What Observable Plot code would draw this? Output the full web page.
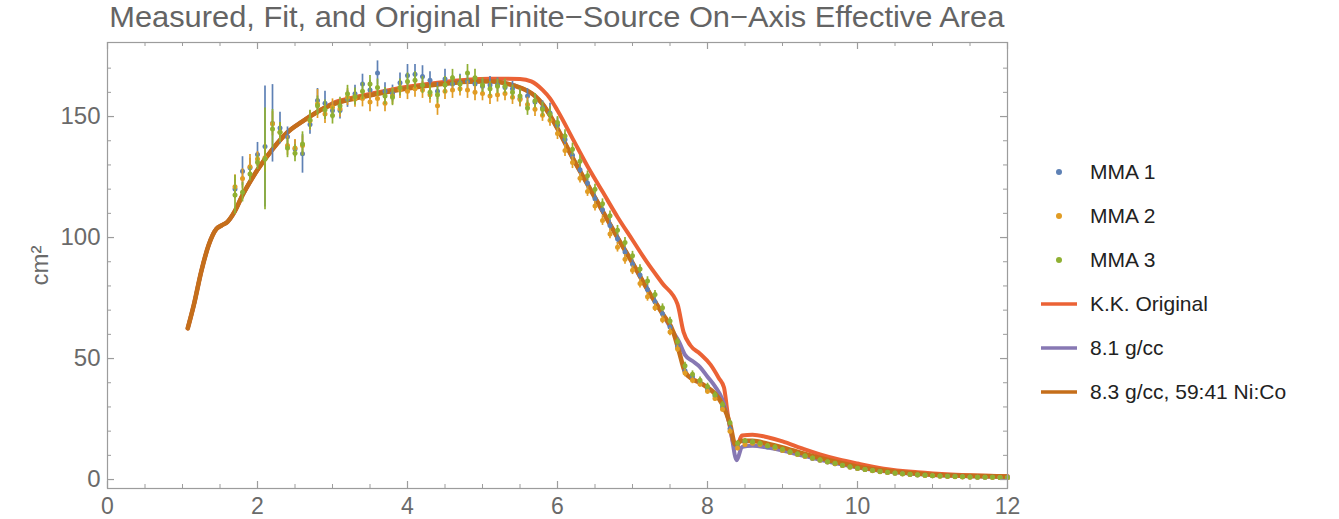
<!DOCTYPE html>
<html>
<head>
<meta charset="utf-8">
<script src="https://cdn.jsdelivr.net/npm/d3@7"></script>
<script src="https://cdn.jsdelivr.net/npm/@observablehq/plot@0.6"></script>
<style>
  html, body { margin: 0; padding: 0; background: #fff; }
  #wrap { position: relative; width: 1339px; height: 519px; overflow: hidden; background: #fff; }
  #title { position: absolute; left: 0; top: 2px; width: 1114px; text-align: center;
           font-family: "Liberation Sans", Arial, sans-serif; font-size: 30px; line-height: 30px; color: #646464; white-space: nowrap; }
  #title span { display: inline-block; transform-origin: center; }
  #chart { position: absolute; left: 0; top: 40px; }
  #legend { position: absolute; left: 1020px; top: 150px; font-family: "Liberation Sans", Arial, sans-serif;
            font-size: 21px; color: #222; }
  .item { display: flex; align-items: center; height: 44px; }
  .item svg { margin-left: 21px; }
  .item span { margin-left: 13px; white-space: nowrap; }
</style>
</head>
<body>
<div id="wrap">
  <div id="title"><span>Measured, Fit, and Original Finite−Source On−Axis Effective Area</span></div>
  <div id="chart"></div>
  <div id="legend"></div>
</div>
<script>
// ---------- data ----------
const titleText = "Measured, Fit, and Original Finite−Source On−Axis Effective Area";
const yLabel = "cm²";
const seriesNames = ["MMA 1", "MMA 2", "MMA 3", "K.K. Original", "8.1 g/cc", "8.3 g/cc, 59:41 Ni:Co"];
const seriesColors = ["#5E81B5", "#E19C24", "#8FB032", "#EB6235", "#8778B3", "#C56E1A"];

const xMajor = [0, 2, 4, 6, 8, 10, 12];
const xMinor = [0.5, 1, 1.5, 2.5, 3, 3.5, 4.5, 5, 5.5, 6.5, 7, 7.5, 8.5, 9, 9.5, 10.5, 11, 11.5];
const yMajor = [0, 50, 100, 150];
const yMinor = [10, 20, 30, 40, 60, 70, 80, 90, 110, 120, 130, 140, 160, 170];

const energy = [
  1.7,1.8,1.9,2.0,2.1,2.2,2.3,2.4,2.5,2.6,
  2.7,2.8,2.9,3.0,3.1,3.2,3.3,3.4,3.5,3.6,
  3.7,3.8,3.9,4.0,4.1,4.2,4.3,4.4,4.5,4.6,
  4.7,4.8,4.9,5.0,5.1,5.2,5.3,5.4,5.5,5.6,
  5.7,5.8,5.9,6.0,6.1,6.2,6.3,6.4,6.5,6.6,
  6.7,6.8,6.9,7.0,7.1,7.2,7.3,7.4,7.5,7.6,
  7.7,7.8,7.9,8.0,8.1,8.2,8.3,8.4,8.5,8.6,
  8.7,8.8,8.9,9.0,9.1,9.2,9.3,9.4,9.5,9.6,
  9.7,9.8,9.9,10.0,10.1,10.2,10.3,10.4,10.5,10.6,
  10.7,10.8,10.9,11.0,11.1,11.2,11.3,11.4,11.5,11.6,
  11.7,11.8,11.9,12.0
];
const mma1 = [
  120.1,127.4,128.8,134.3,137.6,147.2,145.3,141.7,136.6,134.6,
  146.7,156.6,155.5,152.5,152.5,157.3,159.4,163.5,161,168,
  160.5,159.5,164,167,167.5,166.5,165,160.5,165.5,163.5,
  164,164.5,163.5,162.5,163,163,162,161.5,157.5,158.5,
  156,153.5,151.5,146.5,140.5,134,128,122.5,116,111.5,
  105,99.5,94,89,84.5,78.5,73.5,68.5,63,55,
  45,42.5,40,37,34.5,30,21,13.5,15.5,15.5,
  14.5,13.5,13,12,11.3,10.5,9.6,8.7,8.0,7.2,
  6.5,5.8,5.2,4.6,4.1,3.7,3.3,2.9,2.6,2.4,
  2.1,1.9,1.8,1.6,1.5,1.4,1.3,1.2,1.1,1.0,
  0.9,0.9,0.8,0.8
];
const mma2 = [
  121,124.4,129.3,132.5,133,147,143.5,138,137,138,
  148.3,155.2,151.1,153.8,153.2,158,157.3,157.5,156,157.5,
  155.5,158.5,161,160.5,161.5,161,159,154.5,160.5,161,
  161.5,161,160,159.5,158.5,159,159.5,158,157,155,
  153,150.5,148.5,143,136,131,124.5,119,113,107,
  101.5,96,91,86.5,81,75.5,71,66,61,54,
  44,41,39.5,36.5,33.5,29,20,13,14.5,15,
  14.5,14,13,12,11.2,10.4,9.5,8.8,8.0,7.2,
  6.5,5.8,5.1,4.6,4.1,3.6,3.2,2.9,2.6,2.3,
  2.1,1.9,1.7,1.6,1.4,1.3,1.2,1.1,1.0,1.0,
  0.9,0.8,0.8,0.7
];
const mma3 = [
  117.6,118.7,126.3,131.1,132.5,144.9,143.5,137,134.8,138.7,
  148.6,154.5,152.8,150.4,154.5,159.4,158.3,160.5,163.5,162,
  158.5,158,162,164.5,165,163,160,159,163,166,
  163.5,168,166,163,161.5,162.5,162.5,160,158.5,153.5,
  156.5,153,151,147.5,142,136.5,131.5,125.5,120,114,
  109,103,98,92.5,87,82,76.5,71,65.5,57,
  47,43.5,41,38.5,35,31,23.5,15,16,15.5,
  15,14,13.5,12.5,11.5,10.6,9.8,8.9,8.2,7.4,
  6.7,5.9,5.3,4.7,4.2,3.7,3.3,3.0,2.7,2.4,
  2.2,2.0,1.8,1.6,1.5,1.4,1.3,1.2,1.1,1.0,
  1.0,0.9,0.8,0.8
];
const err1 = [
  4,6,4,5,25,16,6.5,4,3.5,8,
  4,5,5,3.5,3.5,3.5,3.5,4,4,5,
  3.5,3.5,4,4.5,4,4.5,3.5,3.5,4,3.5,
  3.5,3.5,3,3,3.5,3,3,3,3.5,3,
  3,3,4,3,2.5,2.5,2.5,2.5,2,2,
  2,2,2,2,1.8,1.8,1.8,1.6,1.6,1.5,
  1.5,1.4,1.4,1.3,1.3,1.2,1.2,1.1,1,1,
  0.9,0.9,0.9,0.8,0.8,0.8,0.7,0.7,0.7,0.6,
  0.6,0.6,0.5,0.5,0.5,0.5,0.5,0.4,0.4,0.4,
  0.4,0.4,0.4,0.4,0.3,0.3,0.3,0.3,0.3,0.3,
  0.3,0.3,0.3,0.3
];
const err2 = [
  5,4,5,3,6,5,4,4,3.5,4,
  4,6,4,3.5,3.5,3.5,3.5,3.5,4,3.5,
  3.5,3.5,3.5,3.5,3.5,3.5,3.5,4,3.5,3.5,
  3,3.5,3.5,3,3.5,3,3,3,3,3,
  3,2.5,2.5,2.5,2.5,2.5,2,2,2,2,
  2,2,2,1.8,1.8,1.8,1.6,1.6,1.6,1.5,
  1.5,1.4,1.4,1.3,1.3,1.2,1.2,1.1,1,1,
  0.9,0.9,0.9,0.8,0.8,0.8,0.7,0.7,0.7,0.6,
  0.6,0.6,0.5,0.5,0.5,0.5,0.5,0.4,0.4,0.4,
  0.4,0.4,0.4,0.4,0.3,0.3,0.3,0.3,0.3,0.3,
  0.3,0.3,0.3,0.3
];
const err3 = [
  8,4,3,3,21,8,4,4,3.5,5,
  4,4,4,3.5,3.5,3.5,3.5,3.5,3.5,3.5,
  3.5,3.5,3.5,3.5,3.5,3.5,3,3.5,3.5,3.5,
  3.5,3.5,3.5,3,3,3,3,3,3,3,
  3,3,3,2.5,2.5,2.5,2.5,2,2,2,
  2,2,2,1.8,1.8,1.8,1.6,1.6,1.6,1.5,
  1.5,1.4,1.4,1.3,1.3,1.2,1.2,1.1,1,1,
  0.9,0.9,0.9,0.8,0.8,0.8,0.7,0.7,0.7,0.6,
  0.6,0.6,0.5,0.5,0.5,0.5,0.5,0.4,0.4,0.4,
  0.4,0.4,0.4,0.4,0.3,0.3,0.3,0.3,0.3,0.3,
  0.3,0.3,0.3,0.3
];

const originalX = [1.07,1.15,1.25,1.35,1.45,1.52,1.6,1.7,1.8,1.9,2.0,2.2,2.4,2.6,2.8,3.0,3.3,3.6,4.0,4.4,4.8,5.1,5.3,5.5,5.65,5.8,5.9,6.0,6.2,6.4,6.6,6.8,7.0,7.2,7.4,7.6,7.68,7.77,7.9,8.04,8.15,8.22,8.27,8.38,8.46,8.6,8.8,9.0,9.25,9.5,9.75,10.0,10.35,10.8,11.25,11.6,12.0];
const originalY = [62.5,72,86,97,103.5,105,106.5,111,117.5,123,128,136.5,143.5,148,152,155.5,158,160,162.3,164,165.2,165.6,165.6,165.5,164.5,161,157.5,152.5,141,129.5,119,108.5,99,89.5,81,72.5,61,55.5,52,47.5,42,38,27,13,18.2,18.5,17.5,15.8,13,10.4,8.3,6.6,4.5,3.0,2.1,1.7,1.4];

const fit81X = [1.07,1.15,1.25,1.35,1.45,1.52,1.6,1.7,1.8,1.9,2.0,2.2,2.4,2.6,2.8,3.0,3.3,3.6,4.0,4.4,4.8,5.1,5.3,5.5,5.7,5.8,5.9,6.0,6.2,6.4,6.6,6.8,7.0,7.2,7.4,7.55,7.62,7.7,7.8,7.9,8.0,8.1,8.2,8.3,8.39,8.46,8.6,8.8,9.0,9.25,9.5,9.75,10.0,10.5,11.0,11.5,12.0];
const fit81Y = [62.5,72,86,97,103.5,105,106.5,111,117.5,123,128,136.5,143.5,148,152,155,157.5,159.4,161.6,163.3,164.4,164.6,163.8,162,158.5,155.2,150.5,145,133,122,111,100,89.5,78.5,68.5,60.5,57,51.5,49,46.5,42.5,38.5,33,22,8,13.5,14,13.2,12,10,8.2,6.5,5,3,1.9,1.4,1.1];

const fit83X = [1.07,1.15,1.25,1.35,1.45,1.52,1.6,1.7,1.8,1.9,2.0,2.2,2.4,2.6,2.8,3.0,3.3,3.6,4.0,4.4,4.8,5.1,5.3,5.5,5.7,5.8,5.9,6.0,6.2,6.4,6.6,6.8,7.0,7.2,7.4,7.55,7.62,7.7,7.8,7.9,8.0,8.1,8.2,8.3,8.37,8.45,8.6,8.8,9.0,9.25,9.5,9.75,10.0,10.5,11.0,11.5,12.0];
const fit83Y = [62.5,72,86,97,103.5,105,106.5,111,117.5,123,128,136.5,143.5,148,152,155,157.5,159.4,161.6,163.3,164.4,164.6,163.8,162,158.5,155.2,150.5,145,133,122,111,100,89.5,78.5,68.5,60.5,53,44.5,41.5,40,38,35.5,31,23,14.5,16,16,14.8,13.3,11,8.9,7,5.3,3.2,2.0,1.5,1.2];

// ---------- build tables ----------
const measured = [mma1, mma2, mma3].map((vals, s) => {
  const errs = [err1, err2, err3][s];
  return energy.map((e, i) => ({series: seriesNames[s], x: e, y: vals[i], lo: vals[i] - errs[i], hi: vals[i] + errs[i]}));
});
const curves = [[originalX, originalY], [fit81X, fit81Y], [fit83X, fit83Y]].map(([xs, ys], k) =>
  xs.map((x, i) => ({series: seriesNames[3 + k], x, y: ys[i]})));
const curveWidths = [4, 4, 4.6];

// ---------- plot ----------
const W = 1020, H = 479;
const mL = 107, mR = 13, mT = 2, mB = 31;
const fw = W - mL - mR, fh = H - mT - mB;
const frameColor = "#9c9c9c";
const labelColor = "#6a6a6a";

const marks = [];
curves.forEach((c, k) => {
  marks.push(Plot.line(c, {x: "x", y: "y", stroke: "series", strokeWidth: curveWidths[k], curve: "monotone-x"}));
});
measured.forEach(m => {
  marks.push(Plot.ruleX(m, {x: "x", y1: "lo", y2: "hi", stroke: "series", strokeWidth: 1.7}));
  marks.push(Plot.dot(m, {x: "x", y: "y", fill: "series", r: 2.5}));
});
marks.push(Plot.frame({stroke: frameColor, strokeWidth: 1.2}));
marks.push(Plot.tickX(xMajor, {x: d => d, insetTop: fh - 7, stroke: frameColor, strokeWidth: 1.2}));
marks.push(Plot.tickX(xMinor, {x: d => d, insetTop: fh - 4, stroke: frameColor}));
marks.push(Plot.tickX(xMajor, {x: d => d, insetBottom: fh - 7, stroke: frameColor, strokeWidth: 1.2}));
marks.push(Plot.tickX(xMinor, {x: d => d, insetBottom: fh - 4, stroke: frameColor}));
marks.push(Plot.tickY(yMajor, {y: d => d, insetRight: fw - 7, stroke: frameColor, strokeWidth: 1.2}));
marks.push(Plot.tickY(yMinor, {y: d => d, insetRight: fw - 4, stroke: frameColor}));
marks.push(Plot.tickY(yMajor, {y: d => d, insetLeft: fw - 7, stroke: frameColor, strokeWidth: 1.2}));
marks.push(Plot.tickY(yMinor, {y: d => d, insetLeft: fw - 4, stroke: frameColor}));
marks.push(Plot.axisX(xMajor, {anchor: "bottom", tickSize: 0, tickPadding: 9, label: null, color: labelColor}));
marks.push(Plot.axisY(yMajor, {anchor: "left", tickSize: 0, tickPadding: 7, label: yLabel, labelAnchor: "center", labelOffset: 77, labelArrow: "none", color: labelColor, fontSize: 24}));

const chart = Plot.plot({
  width: W, height: H,
  marginLeft: mL, marginRight: mR, marginTop: mT, marginBottom: mB,
  x: {domain: [0, 12]},
  y: {domain: [-3.7, 180.6]},
  color: {domain: seriesNames, range: seriesColors},
  style: {fontFamily: "'Liberation Sans', Arial, sans-serif", fontSize: "23px", background: "white", overflow: "visible"},
  marks
});
document.getElementById("chart").appendChild(chart);

// ---------- legend ----------
const legend = document.getElementById("legend");
seriesNames.forEach((name, i) => {
  const item = document.createElement("div");
  item.className = "item";
  const sw = i < 3
    ? `<svg width="36" height="10"><circle cx="18" cy="5" r="3" fill="${seriesColors[i]}"/></svg>`
    : `<svg width="36" height="10"><line x1="0" x2="36" y1="5" y2="5" stroke="${seriesColors[i]}" stroke-width="3.5"/></svg>`;
  item.innerHTML = sw + `<span>${name}</span>`;
  legend.appendChild(item);
});

// ---------- title width fit ----------
const tspan = document.querySelector("#title span");
tspan.textContent = titleText;
const tw = tspan.getBoundingClientRect().width;
if (tw > 0) tspan.style.transform = `scaleX(${895 / tw})`;
</script>
</body>
</html>
